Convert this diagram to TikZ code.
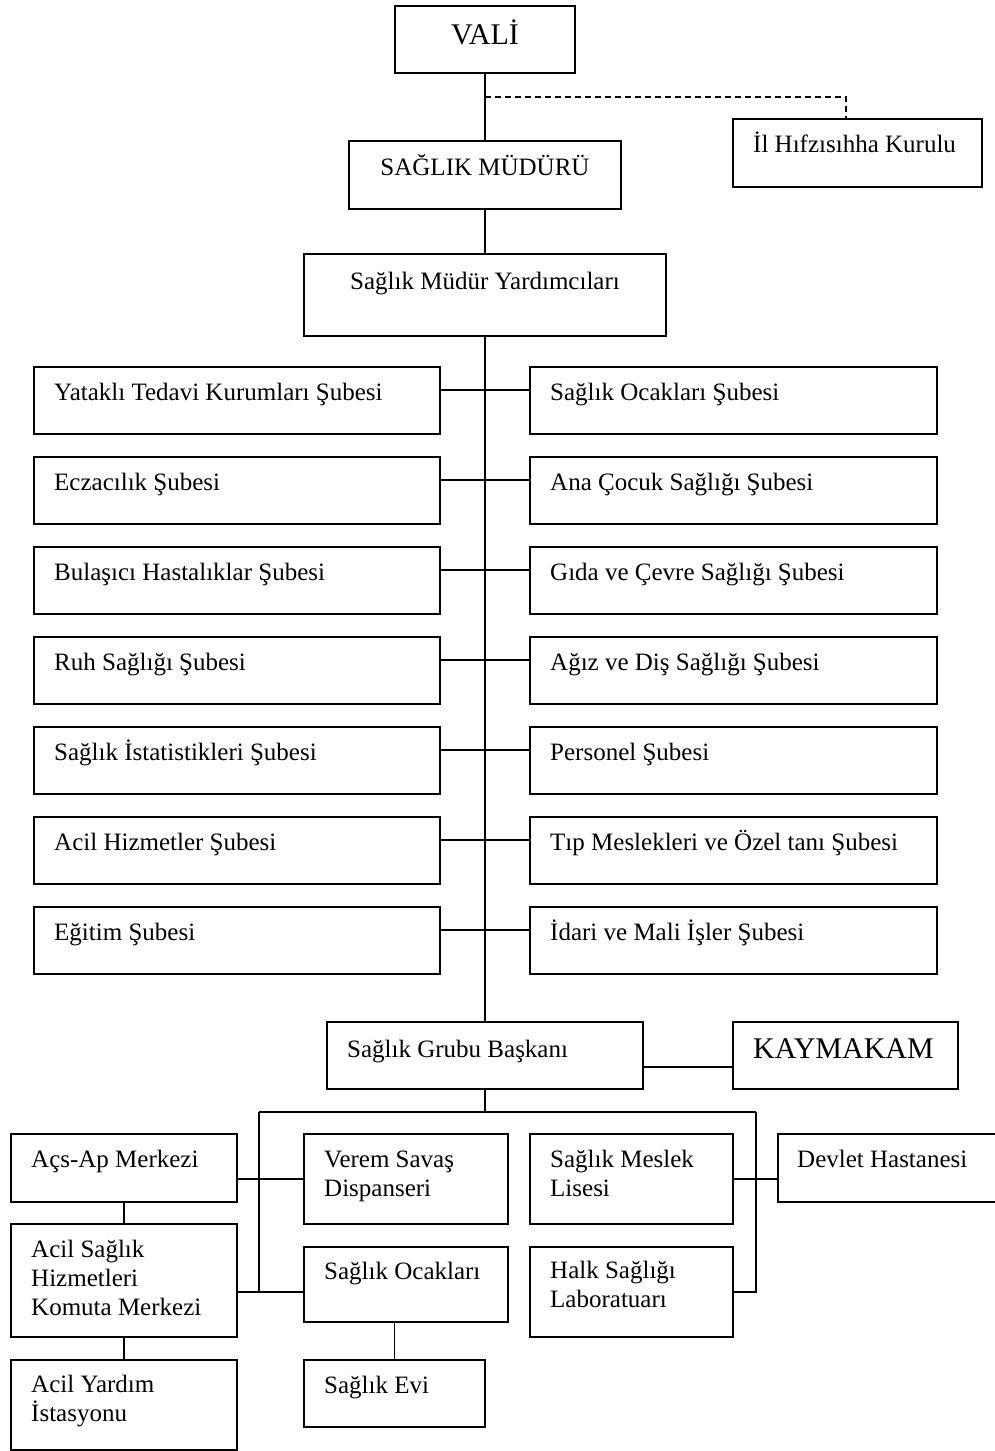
\documentclass[tikz,border=0pt]{standalone}
\usepackage{fontspec}
\setmainfont{Liberation Serif}
\newcommand\bodyfont{\fontsize{25}{29}\selectfont}
\newcommand\bigfont{\fontsize{30}{36}\selectfont}
% several lines, baseline of the node = baseline of the first line
\newcommand\stack[1]{\vtop{\baselineskip=29pt\halign{##\hfil\cr#1\crcr}}}
\tikzset{
  line/.style={line width=1.5pt},
  box/.style={draw, line width=1.5pt, rectangle, inner sep=0pt, outer sep=0pt, anchor=north west},
  lbl/.style={inner sep=0pt, anchor=base west, font=\bodyfont},
  clbl/.style={inner sep=0pt, anchor=base, font=\bodyfont},
}
\begin{document}
\begin{tikzpicture}[x=1pt, y=-1pt]
\clip (0,0) rectangle (995,1451);
\fill[white] (0,0) rectangle (995,1451);

% top of the chart
\node[box, minimum width=180, minimum height=67] (vali) at (395,6) {};
\node[clbl, font=\bigfont] (vali-t) at ([shift={(0,38)}]vali.north) {VALİ};
\node[box, minimum width=249, minimum height=68] (hifz) at (733,119) {};
\node[lbl] (hifz-t) at ([shift={(20,33)}]hifz.north west) {İl Hıfzısıhha Kurulu};
\node[box, minimum width=272, minimum height=68] (mudur) at (349,141) {};
\node[clbl] (mudur-t) at ([shift={(0,34)}]mudur.north) {SAĞLIK MÜDÜRÜ};
\node[box, minimum width=362, minimum height=82] (yard) at (304,254) {};
\node[clbl] (yard-t) at ([shift={(0,35)}]yard.north) {Sağlık Müdür Yardımcıları};

% branches, left and right columns
\foreach \i/\t in {1/Yataklı Tedavi Kurumları Şubesi, 2/Eczacılık Şubesi,
  3/Bulaşıcı Hastalıklar Şubesi, 4/Ruh Sağlığı Şubesi,
  5/Sağlık İstatistikleri Şubesi, 6/Acil Hizmetler Şubesi, 7/Eğitim Şubesi}{
  \node[box, minimum width=406, minimum height=67] (L\i) at (34,277+90*\i) {};
  \node[lbl] (L\i-t) at ([shift={(20,33)}]L\i.north west) {\t};
}
\foreach \i/\t in {1/Sağlık Ocakları Şubesi, 2/Ana Çocuk Sağlığı Şubesi,
  3/Gıda ve Çevre Sağlığı Şubesi, 4/Ağız ve Diş Sağlığı Şubesi,
  5/Personel Şubesi, 6/Tıp Meslekleri ve Özel tanı Şubesi,
  7/İdari ve Mali İşler Şubesi}{
  \node[box, minimum width=407, minimum height=67] (R\i) at (530,277+90*\i) {};
  \node[lbl] (R\i-t) at ([shift={(20,33)}]R\i.north west) {\t};
}

% group level
\node[box, minimum width=316, minimum height=67] (sgb) at (327,1022) {};
\node[lbl] (sgb-t) at ([shift={(20,35)}]sgb.north west) {Sağlık Grubu Başkanı};
\node[box, minimum width=225, minimum height=67] (kay) at (733,1022) {};
\node[lbl, font=\bigfont] (kay-t) at ([shift={(20,36)}]kay.north west) {KAYMAKAM};

% units under the group
\node[box, minimum width=226, minimum height=68] (acs) at (11,1134) {};
\node[lbl] (acs-t) at ([shift={(20,33)}]acs.north west) {Açs-Ap Merkezi};
\node[box, minimum width=226, minimum height=113] (ashkm) at (11,1224) {};
\node[lbl] (ashkm-t) at ([shift={(20,33)}]ashkm.north west) {\stack{Acil Sağlık\cr Hizmetleri\cr Komuta Merkezi}};
\node[box, minimum width=226, minimum height=90] (ayi) at (11,1360) {};
\node[lbl] (ayi-t) at ([shift={(20,32)}]ayi.north west) {\stack{Acil Yardım\cr İstasyonu}};
\node[box, minimum width=204, minimum height=90] (verem) at (304,1134) {};
\node[lbl] (verem-t) at ([shift={(20,33)}]verem.north west) {\stack{Verem Savaş\cr Dispanseri}};
\node[box, minimum width=204, minimum height=75] (soc) at (304,1247) {};
\node[lbl] (soc-t) at ([shift={(20,32)}]soc.north west) {Sağlık Ocakları};
\node[box, minimum width=181, minimum height=67] (evi) at (304,1360) {};
\node[lbl] (evi-t) at ([shift={(20,33)}]evi.north west) {Sağlık Evi};
\node[box, minimum width=203, minimum height=90] (sml) at (530,1134) {};
\node[lbl] (sml-t) at ([shift={(20,33)}]sml.north west) {\stack{Sağlık Meslek\cr Lisesi}};
\node[box, minimum width=203, minimum height=90] (halk) at (530,1247) {};
\node[lbl] (halk-t) at ([shift={(20,31)}]halk.north west) {\stack{Halk Sağlığı\cr Laboratuarı}};
\node[box, minimum width=240, minimum height=68] (devlet) at (778,1134) {};
\node[lbl] (devlet-t) at ([shift={(19,33)}]devlet.north west) {Devlet Hastanesi};

% connectors
\draw[line] (vali.south) -- (mudur.north);
\draw[line] (mudur.south) -- (yard.north);
\draw[line] (yard.south) -- (sgb.north);
\coordinate (dj) at (485,97);
\draw[line, dash pattern=on 6pt off 4pt] (dj) -| ([xshift=-11.5pt]hifz.north);
\foreach \i in {1,...,7}{
  \draw[line] ([yshift=-23pt]L\i.north east) -- ([yshift=-23pt]R\i.north west);
}
\draw[line] ([yshift=-45pt]sgb.north east) -- ([yshift=-45pt]kay.north west);

\coordinate (bus) at (485,1112);
\coordinate (busL) at (259,1112);
\coordinate (busR) at (756,1112);
\coordinate (lowL) at (259,1292);
\draw[line] (sgb.south) -- (bus);
\draw[line] (busL) -- (busR);
\draw[line] (busL) -- (lowL);
\draw[line] (busR) |- (halk.east);
\draw[line] (acs.east |- verem.west) -- (verem.west);
\draw[line] (ashkm.east |- lowL) -- (soc.west |- lowL);
\draw[line] (sml.east) -- (devlet.west |- sml.east);
\draw[line] (acs.south) -- (ashkm.north);
\draw[line] (ashkm.south) -- (ayi.north);
\draw[line] (evi.north |- soc.south) -- (evi.north);
\end{tikzpicture}
\end{document}
